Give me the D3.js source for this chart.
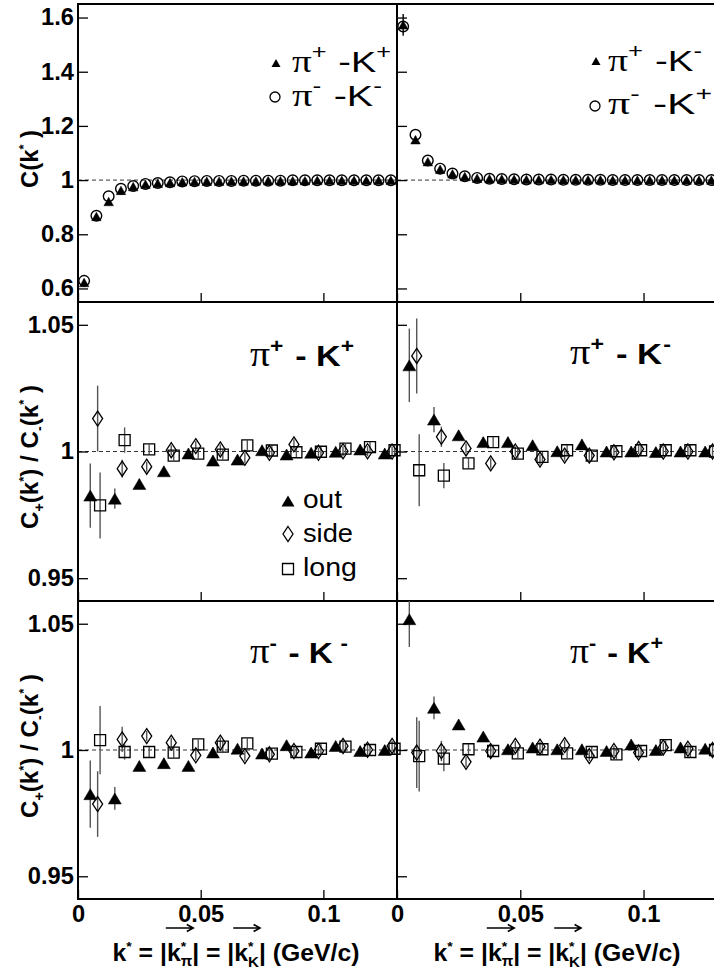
<!DOCTYPE html>
<html><head><meta charset="utf-8">
<script src="https://cdn.jsdelivr.net/npm/d3@7"></script>
<style>body{margin:0;background:#fff}svg{display:block}</style>
</head><body>
<svg id="c" width="714" height="972"></svg>
<script>
// ---------------- DATA ----------------
const kFine = [0.0025,0.0075,0.0125,0.0175,0.0225,0.0275,0.0325,0.0375,0.0425,0.0475,0.0525,0.0575,0.0625,
  0.0675,0.0725,0.0775,0.0825,0.0875,0.0925,0.0975,0.1025,0.1075,0.1125,0.1175,0.1225,0.1275];
// C(k*) pi+K+ (triangle) and pi-K- (circle)
const cPipKp = [0.622,0.866,0.921,0.962,0.976,0.985,0.988,0.991,0.994,0.995,0.996,0.996,0.997,0.997,0.997,0.998,0.998,0.998,0.998,0.999,0.999,0.999,0.999,0.999,0.999,0.999];
const cPimKm = [0.628,0.868,0.940,0.968,0.978,0.986,0.989,0.992,0.995,0.996,0.997,0.997,0.997,0.998,0.998,0.998,0.998,0.999,0.999,0.999,0.999,0.999,0.999,0.999,0.999,0.999];
const cSameErr = [0.012,0.006,0.004,0.003,0.002,0.002,0.002,0.002,0.002,0.002,0.002,0.002,0.002,0.002,0.002,0.002,0.002,0.002,0.002,0.002,0.002,0.002,0.002,0.002,0.002,0.002];
// C(k*) pi+K- (triangle) and pi-K+ (circle)
const cPipKm = [1.573,1.149,1.068,1.040,1.023,1.013,1.007,1.005,1.004,1.003,1.002,1.002,1.002,1.001,1.001,1.001,1.001,1.000,1.000,1.000,1.000,1.000,1.000,1.000,1.000,1.000];
const cPimKp = [1.567,1.167,1.072,1.042,1.024,1.014,1.008,1.005,1.004,1.003,1.002,1.002,1.002,1.001,1.001,1.001,1.001,1.000,1.000,1.000,1.000,1.000,1.000,1.000,1.000,1.000];
const cOppErr = [0.040,0.012,0.006,0.004,0.003,0.002,0.002,0.002,0.002,0.002,0.002,0.002,0.002,0.002,0.002,0.002,0.002,0.002,0.002,0.002,0.002,0.002,0.002,0.002,0.002,0.002];

const kCoarse = [0.005,0.015,0.025,0.035,0.045,0.055,0.065,0.075,0.085,0.095,0.105,0.115,0.125];
const smallErr = [0.002,0.002,0.002,0.002,0.002,0.002,0.002,0.002,0.002,0.002,0.002];
// ratio C+/C- : pi+ K+
const ppOut  = [0.9826,0.9814,0.9872,0.9922,0.9992,0.9964,0.9968,1.0005,0.9988,0.9995,0.9999,1.0008,0.9992];
const ppOutErr  = [0.0127,0.0040].concat(smallErr);
const ppSide = [1.0130,0.9932,0.9940,1.0005,1.0021,1.0008,0.9975,0.9995,1.0028,0.9995,1.0001,1.0001,1.0000];
const ppSideErr = [0.0130,0.0035].concat(smallErr);
const ppLong = [0.9787,1.0045,1.0008,0.9984,0.9992,0.9988,1.0024,1.0004,0.9997,0.9999,1.0011,1.0017,1.0005];
const ppLongErr = [0.0130,0.0050].concat(smallErr);
// pi+ K-
const pmOut  = [1.0340,1.0126,1.0064,1.0037,1.0037,1.0025,1.0001,1.0028,1.0000,1.0000,0.9998,1.0000,1.0000];
const pmOutErr  = [0.0145,0.0050].concat(smallErr);
const pmSide = [1.0377,1.0058,1.0012,0.9953,1.0000,0.9968,0.9984,0.9984,0.9997,1.0010,1.0000,1.0000,1.0000];
const pmSideErr = [0.0148,0.0040].concat(smallErr);
const pmLong = [0.9926,0.9905,0.9953,1.0037,0.9992,0.9979,1.0005,0.9984,1.0001,1.0005,1.0005,1.0005,1.0000];
const pmLongErr = [0.0142,0.0050].concat(smallErr);
// pi- K-
const mmOut  = [0.9825,0.9808,0.9937,0.9948,0.9937,0.9990,1.0005,0.9986,1.0019,0.9990,1.0016,0.9996,1.0000];
const mmOutErr  = [0.0133,0.0045].concat(smallErr);
const mmSide = [0.9786,1.0042,1.0055,1.0029,0.9979,1.0029,0.9976,0.9983,0.9996,0.9996,1.0016,1.0001,1.0016];
const mmSideErr = [0.0130,0.0050].concat(smallErr);
const mmLong = [1.0039,0.9992,0.9992,0.9990,1.0022,1.0013,1.0026,0.9986,0.9992,1.0005,1.0013,1.0000,1.0005];
const mmLongErr = [0.0135,0.0030].concat(smallErr);
// pi- K+
const mpOut  = [1.0518,1.0167,1.0101,1.0053,1.0003,1.0010,1.0003,1.0003,0.9996,1.0022,1.0000,1.0010,1.0005];
const mpOutErr  = [0.0110,0.0045].concat(smallErr);
const mpSide = [0.9990,0.9996,0.9953,0.9996,1.0016,1.0013,1.0019,0.9976,0.9996,0.9990,1.0010,1.0005,1.0000];
const mpSideErr = [0.0140,0.0040].concat(smallErr);
const mpLong = [0.9976,0.9966,1.0003,0.9996,0.9987,1.0003,0.9987,0.9992,0.9983,0.9996,1.0019,0.9992,1.0000];
const mpLongErr = [0.0140,0.0050].concat(smallErr);

const xTickValues = [0, 0.05, 0.1];
const xTickLabels = ["0", "0.05", "0.1"];
const cTickValues = [0.6, 0.8, 1, 1.2, 1.4, 1.6];
const cTickLabels = ["0.6", "0.8", "1", "1.2", "1.4", "1.6"];
const rTickValues = [0.95, 1, 1.05];
const rTickLabels = ["0.95", "1", "1.05"];

// ---------------- DRAWING ----------------
const svg = d3.select("#c");
const FONT = '"Liberation Sans", Arial, Helvetica, sans-serif';
const SERIF = '"Liberation Serif", "DejaVu Serif", serif';
const colRange = [[78, 397], [397, 717.5]];
const rowRange = [[4, 302], [302, 601], [601, 899]];
const xDomain = [0, 0.13];
const cDomain = [0.55, 1.65];
const rDomain = [0.941, 1.059];

function panel(row, col, yDomain, yTicks, yLabels) {
  const x = d3.scaleLinear().domain(xDomain).range(colRange[col]);
  const y = d3.scaleLinear().domain(yDomain).range([rowRange[row][1], rowRange[row][0]]);
  const g = svg.append("g");
  g.append("line").attr("x1", x(0)).attr("x2", x.range()[1]).attr("y1", y(1)).attr("y2", y(1))
    .attr("stroke", "#333").attr("stroke-width", 1).attr("stroke-dasharray", "4,3");
  const ya = d3.axisLeft(y).tickValues(yTicks).tickSize(-10).tickSizeOuter(0).tickPadding(4)
    .tickFormat((d, i) => col === 0 ? yLabels[i] : "");
  const yg = g.append("g").attr("transform", `translate(${x(0)},0)`).call(ya);
  const xa = d3.axisBottom(x).tickValues(xTickValues).tickSize(-9).tickSizeOuter(0).tickPadding(7)
    .tickFormat((d, i) => row === 2 ? xTickLabels[i] : "");
  const xg = g.append("g").attr("transform", `translate(0,${y.range()[0]})`).call(xa);
  [yg, xg].forEach(a => {
    a.select(".domain").remove();
    a.selectAll("line").attr("stroke", "#000").attr("stroke-width", 1.3);
    a.selectAll("text").attr("font-family", FONT).attr("font-size", 23).attr("font-weight", "bold")
      .attr("fill", "#000").attr("transform", "scale(1.03,1)");
  });
  g.append("rect").attr("x", x(0)).attr("y", y.range()[1]).attr("width", x.range()[1] - x(0))
    .attr("height", y.range()[0] - y.range()[1]).attr("fill", "none").attr("stroke", "#000").attr("stroke-width", 2);
  const data = g.append("g");
  return { x, y, g: data };
}

const tri = (w, h) => `M0,${-h / 2}L${w / 2},${h / 2}L${-w / 2},${h / 2}Z`;
const dia = (w, h) => `M0,${-h / 2}L${w / 2},0L0,${h / 2}L${-w / 2},0Z`;
const sq = (s) => `M${-s / 2},${-s / 2}H${s / 2}V${s / 2}H${-s / 2}Z`;
const circ = (r) => `M${r},0A${r},${r} 0 1,1 ${-r},0A${r},${r} 0 1,1 ${r},0Z`;

function errBars(p, ks, vals, errs, dx, color) {
  const [lo, hi] = p.y.domain();
  p.g.append("g").selectAll("line").data(vals).join("line")
    .attr("x1", (d, i) => p.x(ks[i] + dx)).attr("x2", (d, i) => p.x(ks[i] + dx))
    .attr("y1", (d, i) => p.y(Math.min(d + errs[i], hi)))
    .attr("y2", (d, i) => p.y(Math.max(d - errs[i], lo)))
    .attr("stroke", color).attr("stroke-width", 1.4);
}
function markers(p, ks, vals, dx, shape, fill, sw) {
  p.g.append("g").selectAll("path").data(vals).join("path")
    .attr("transform", (d, i) => `translate(${p.x(ks[i] + dx)},${p.y(d)})`)
    .attr("d", shape).attr("fill", fill).attr("stroke", "#000").attr("stroke-width", sw);
}

function rich(parent, pieces, o) {
  const g = parent.append("g").attr("transform", `translate(${o.x},${o.y}) rotate(${o.rotate || 0})`);
  const inner = g.append("g");
  let cur = 0, prevStart = 0;
  const marks = {};
  pieces.forEach(p => {
    const start = p.stack ? prevStart : cur + (p.gap || 0);
    const t = inner.append("text").attr("x", start).attr("y", p.dy || 0)
      .attr("font-size", p.size || o.size).attr("font-weight", p.weight || o.weight || "normal")
      .attr("font-family", p.family || FONT).attr("fill", "#000").text(p.t);
    const w = t.node().getComputedTextLength();
    if (p.mark) { (marks[p.mark] = marks[p.mark] || []).push(start, start + w); }
    cur = Math.max(cur, start + w);
    if (!p.stack) prevStart = start;
  });
  const sx = o.width ? o.width / cur : 1;
  const off = o.anchor === "middle" ? -cur * sx / 2 : o.anchor === "end" ? -cur * sx : 0;
  inner.attr("transform", `translate(${off},0) scale(${sx},1)`);
  return { inner, marks };
}

// ---- Top panels ----
const pTL = panel(0, 0, cDomain, cTickValues, cTickLabels);
const pTR = panel(0, 1, cDomain, cTickValues, cTickLabels);
[[pTL, cPimKm, cPipKp, cSameErr], [pTR, cPimKp, cPipKm, cOppErr]].forEach(([p, circV, triV, e]) => {
  errBars(p, kFine, triV, e, 0, "#000");
  markers(p, kFine, circV, 0, circ(5.3), "none", 1.4);
  markers(p, kFine, triV, 0, tri(9.5, 8.5), "#000", 0.5);
});

// ---- Ratio panels ----
const pML = panel(1, 0, rDomain, rTickValues, rTickLabels);
const pMR = panel(1, 1, rDomain, rTickValues, rTickLabels);
const pBL = panel(2, 0, rDomain, rTickValues, rTickLabels);
const pBR = panel(2, 1, rDomain, rTickValues, rTickLabels);
const SIDE_DX = 0.003, LONG_DX = 0.004;
[
  [pML, ppOut, ppOutErr, ppSide, ppSideErr, ppLong, ppLongErr],
  [pMR, pmOut, pmOutErr, pmSide, pmSideErr, pmLong, pmLongErr],
  [pBL, mmOut, mmOutErr, mmSide, mmSideErr, mmLong, mmLongErr],
  [pBR, mpOut, mpOutErr, mpSide, mpSideErr, mpLong, mpLongErr]
].forEach(([p, o, oe, s, se, l, le]) => {
  errBars(p, kCoarse, o, oe, 0, "#555");
  errBars(p, kCoarse, s, se, SIDE_DX, "#555");
  errBars(p, kCoarse, l, le, LONG_DX, "#555");
  markers(p, kCoarse, o, 0, tri(13, 11), "#000", 0.5);
  markers(p, kCoarse, s, SIDE_DX, dia(10, 15), "none", 1.3);
  markers(p, kCoarse, l, LONG_DX, sq(11), "none", 1.3);
});

// ---- Legends (top) ----
const lg = svg.append("g");
lg.append("path").attr("transform", "translate(276,63)").attr("d", tri(9, 8)).attr("fill", "#000");
lg.append("path").attr("transform", "translate(275,97)").attr("d", circ(5)).attr("fill", "none").attr("stroke", "#000").attr("stroke-width", 1.3);
lg.append("path").attr("transform", "translate(596,61)").attr("d", tri(9, 8)).attr("fill", "#000");
lg.append("path").attr("transform", "translate(595,106)").attr("d", circ(5)).attr("fill", "none").attr("stroke", "#000").attr("stroke-width", 1.3);
const sup = (t) => ({ t, size: 20, dy: -13 });
const PI = { t: "π", family: SERIF, size: 31 };
rich(lg, [PI, sup("+"), { t: "\u00a0-K", gap: 1 }, sup("+")], { x: 292, y: 72, size: 30, width: 99 });
rich(lg, [PI, sup("-"), { t: "\u00a0-K", gap: 1 }, sup("-")], { x: 292, y: 106, size: 30, width: 90 });
rich(lg, [PI, sup("+"), { t: "\u00a0-K", gap: 1 }, sup("-")], { x: 608, y: 71, size: 30, width: 94 });
rich(lg, [PI, sup("-"), { t: "\u00a0-K", gap: 1 }, sup("+")], { x: 608, y: 114, size: 30, width: 104 });

// ---- Panel labels (ratio) ----
const bsup = (t, g) => ({ t, size: 20, dy: -13, weight: "bold", gap: g || 0 });
const BPI = { t: "π", family: SERIF, size: 35, weight: "normal" };
const KTXT = { t: "\u00a0-\u00a0K", size: 30, weight: "bold", gap: 2 };
rich(lg, [BPI, bsup("+"), KTXT, bsup("+")], { x: 250, y: 366, width: 104 });
rich(lg, [BPI, bsup("+"), KTXT, bsup("-", 1)], { x: 570, y: 364, width: 101 });
rich(lg, [BPI, bsup("-"), KTXT, bsup("-", 7)], { x: 250, y: 663, width: 98 });
rich(lg, [BPI, bsup("-"), KTXT, bsup("+")], { x: 570, y: 663, width: 93 });

// ---- out / side / long legend ----
lg.append("path").attr("transform", "translate(288,501)").attr("d", tri(13, 11)).attr("fill", "#000");
lg.append("path").attr("transform", "translate(288,534)").attr("d", dia(10, 15)).attr("fill", "none").attr("stroke", "#000").attr("stroke-width", 1.3);
lg.append("path").attr("transform", "translate(288,569)").attr("d", sq(11)).attr("fill", "none").attr("stroke", "#000").attr("stroke-width", 1.3);
rich(lg, [{ t: "out" }], { x: 303, y: 508, size: 26, width: 39 });
rich(lg, [{ t: "side" }], { x: 303, y: 542, size: 26, width: 50 });
rich(lg, [{ t: "long" }], { x: 303, y: 576, size: 26, width: 54 });

// ---- Axis titles ----
const star = { t: "*", size: 13, dy: -10, weight: "bold" };
rich(lg, [{ t: "C(k" }, star, { t: "\u00a0)" }], { x: 38, y: 159, size: 24, weight: "bold", rotate: -90, anchor: "middle", width: 58 });
const ratioTitle = [{ t: "C" }, { t: "+", size: 14, dy: 6 }, { t: "(k" }, star, { t: ")\u00a0/\u00a0C" },
  { t: "-", size: 14, dy: 6 }, { t: "(k" }, star, { t: "\u00a0)" }];
rich(lg, ratioTitle, { x: 38, y: 457, size: 24, weight: "bold", rotate: -90, anchor: "middle", width: 144 });
rich(lg, ratioTitle, { x: 38, y: 746, size: 24, weight: "bold", rotate: -90, anchor: "middle", width: 144 });

const xTitle = [{ t: "k" }, star, { t: "\u00a0=\u00a0|" }, { t: "k", mark: "a1" }, star,
  { t: "π", size: 14, dy: 5, stack: true, mark: "a1" }, { t: "|\u00a0=\u00a0|" }, { t: "k", mark: "a2" }, star,
  { t: "K", size: 14, dy: 6, stack: true, mark: "a2" }, { t: "|\u00a0(GeV/c)" }];
[236, 557].forEach(cx => {
  const r = rich(lg, xTitle, { x: cx, y: 961, size: 23, weight: "bold", anchor: "middle", width: 247 });
  ["a1", "a2"].forEach(k => {
    const m = r.marks[k];
    const x0 = Math.min(...m) - 1, x1 = Math.max(...m) + 1;
    r.inner.append("path").attr("d", `M${x0},-33H${x1}M${x1 - 6},-36.5L${x1},-33L${x1 - 6},-29.5`)
      .attr("fill", "none").attr("stroke", "#000").attr("stroke-width", 1.5);
  });
});
</script>
</body></html>
